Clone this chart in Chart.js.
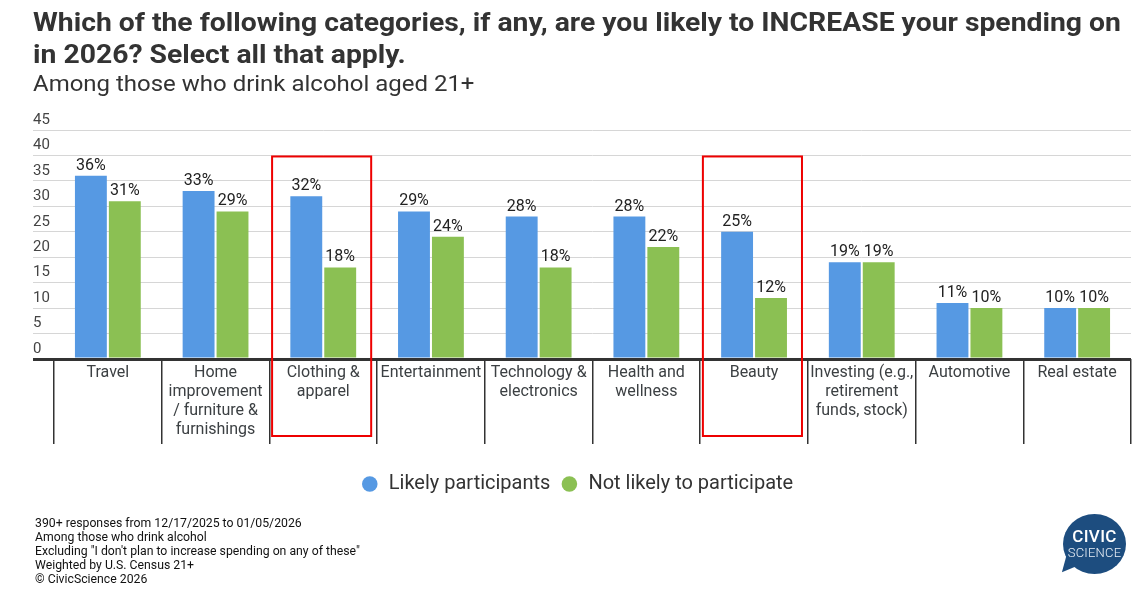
<!DOCTYPE html>
<html>
<head>
<meta charset="utf-8">
<script src="https://cdn.jsdelivr.net/npm/chart.js@4.4.1/dist/chart.umd.min.js"></script>
<style>
  html, body { margin: 0; padding: 0; background: #fff; }
  #wrap { position: relative; width: 1137px; height: 599px; overflow: hidden; font-family: Roboto, sans-serif; }
  #c { position: absolute; left: 0; top: 0; }
  #title { position: absolute; left: 33px; top: 7px; font-size: 26px; font-weight: 700; line-height: 31.6px; color: #333; white-space: nowrap; transform: scaleX(1.089); transform-origin: 0 0; }
  #subtitle { position: absolute; left: 33px; top: 71px; font-size: 22px; font-weight: 400; line-height: 26px; color: #333; white-space: nowrap; transform: scaleX(1.09); transform-origin: 0 0; }
  #footer { position: absolute; left: 35px; top: 516px; font-size: 12.25px; line-height: 14px; color: #111; }
  #logo { position: absolute; left: 1063px; top: 514px; width: 63px; height: 60px; }
  #logo .circ { position: absolute; left: 0; top: 0; width: 63px; height: 60px; border-radius: 50%; background: #1d4d7f; }
  #logo .tail { position: absolute; left: 3px; top: 42px; width: 0; height: 0; border-left: 8px solid transparent; border-right: 14px solid transparent; border-top: 22px solid #1d4d7f; transform: rotate(35deg); transform-origin: 50% 0; }
  #logo .t1 { position: absolute; left: 0; width: 63px; top: 14px; text-align: center; color: #fff; font-weight: 500; font-size: 17px; line-height: 17px; letter-spacing: 0.3px; }
  #logo .t2 { position: absolute; left: 0; width: 63px; top: 32px; text-align: center; color: #e8eef5; font-weight: 300; font-size: 13px; line-height: 13px; letter-spacing: 0.2px; }
</style>
</head>
<body>
<div id="wrap">
  <canvas id="c" width="1137" height="599"></canvas>
  <div id="title"></div>
  <div id="subtitle"></div>
  <div id="footer">
    <div>390+ responses from 12/17/2025 to 01/05/2026</div>
    <div>Among those who drink alcohol</div>
    <div>Excluding "I don't plan to increase spending on any of these"</div>
    <div>Weighted by U.S. Census 21+</div>
    <div>© CivicScience 2026</div>
  </div>
  <div id="logo">
    <div class="tail"></div>
    <div class="circ"></div>
    <div class="t1">CIVIC</div>
    <div class="t2">SCIENCE</div>
  </div>
</div>
<script>
const categories = [
  ['Travel'],
  ['Home', 'improvement', '/ furniture &', 'furnishings'],
  ['Clothing &', 'apparel'],
  ['Entertainment'],
  ['Technology &', 'electronics'],
  ['Health and', 'wellness'],
  ['Beauty'],
  ['Investing (e.g.,', 'retirement', 'funds, stock)'],
  ['Automotive'],
  ['Real estate']
];
const likelyParticipants = [36, 33, 32, 29, 28, 28, 25, 19, 11, 10];
const notLikely = [31, 29, 18, 24, 18, 22, 12, 19, 10, 10];
const yTicks = [0, 5, 10, 15, 20, 25, 30, 35, 40, 45];
const highlighted = [2, 6];
const titleLines = ['Which of the following categories, if any, are you likely to INCREASE your spending on', 'in 2026? Select all that apply.'];
const subtitleText = 'Among those who drink alcohol aged 21+';

document.getElementById('title').innerHTML = titleLines.map(t => '<div>' + t + '</div>').join('');
document.getElementById('subtitle').textContent = subtitleText;

const BLUE = '#5699e3';
const GREEN = '#8bc053';

const valueLabels = {
  id: 'valueLabels',
  afterDatasetsDraw(chart) {
    const ctx = chart.ctx;
    ctx.save();
    ctx.font = '16px Roboto';
    ctx.fillStyle = '#222';
    ctx.textAlign = 'center';
    ctx.textBaseline = 'bottom';
    chart.data.datasets.forEach((ds, di) => {
      const meta = chart.getDatasetMeta(di);
      meta.data.forEach((bar, i) => {
        ctx.fillText(ds.data[i] + '%', bar.x, bar.y - 2);
      });
    });
    ctx.restore();
  }
};

const highlightBoxes = {
  id: 'highlightBoxes',
  afterDraw(chart) {
    const ctx = chart.ctx;
    const xs = chart.scales.x, ys = chart.scales.y;
    const catW = (xs.right - xs.left) / categories.length;
    ctx.save();
    ctx.strokeStyle = '#ee0000';
    ctx.lineWidth = 2;
    highlighted.forEach(idx => {
      const cx = xs.getPixelForValue(idx);
      const left = cx - catW * 0.475;
      const right = cx + catW * 0.445;
      const top = ys.getPixelForValue(39.8);
      const bottom = chart.chartArea.bottom + 77;
      ctx.strokeRect(left, top, right - left, bottom - top);
    });
    ctx.restore();
  }
};

const legendShift = {
  id: 'legendShift',
  afterLayout(chart) {
    if (chart.legend) { chart.legend.left -= 5; chart.legend.right -= 5; }
  }
};

new Chart(document.getElementById('c'), {
  type: 'bar',
  data: {
    labels: categories,
    datasets: [
      { label: 'Likely participants', data: likelyParticipants, backgroundColor: BLUE, barPercentage: 0.94, categoryPercentage: 0.63 },
      { label: 'Not likely to participate', data: notLikely, backgroundColor: GREEN, barPercentage: 0.94, categoryPercentage: 0.63 }
    ]
  },
  options: {
    responsive: false,
    animation: false,
    devicePixelRatio: 1,
    layout: { padding: { left: 33, right: 6, top: 130, bottom: 95 } },
    plugins: {
      title: { display: false },
      subtitle: { display: false },
      legend: {
        position: 'bottom',
        labels: {
          usePointStyle: true,
          pointStyle: 'circle',
          boxWidth: 18,
          boxHeight: 11,
          color: '#333',
          font: { family: 'Roboto', size: 20 },
          padding: 10
        }
      },
      tooltip: { enabled: false }
    },
    scales: {
      x: {
        grid: {
          display: true,
          offset: true,
          drawOnChartArea: false,
          drawTicks: true,
          tickLength: 85,
          color: '#333',
          lineWidth: 1.5
        },
        border: { display: false },
        ticks: {
          color: '#3c4043',
          font: { family: 'Roboto', size: 16, lineHeight: 1.2 },
          padding: -81,
          maxRotation: 0,
          autoSkip: false
        },
        afterFit(scale) { scale.height = 105; }
      },
      y: {
        min: 0,
        max: 45,
        afterBuildTicks(scale) { scale.ticks = yTicks.map(v => ({ value: v })); },
        grid: {
          drawTicks: true,
          tickLength: 21,
          color: ctx => (ctx.tick && ctx.tick.value === 0) ? '#333' : '#d6d6d6',
          lineWidth: ctx => (ctx.tick && ctx.tick.value === 0) ? 3 : 1
        },
        border: { display: false },
        ticks: {
          crossAlign: 'far',
          labelOffset: -10,
          color: '#444',
          font: { family: 'Roboto', size: 15 }
        },
        afterFit(scale) { scale.width = 21; }
      }
    }
  },
  plugins: [valueLabels, highlightBoxes, legendShift]
});
</script>
</body>
</html>
